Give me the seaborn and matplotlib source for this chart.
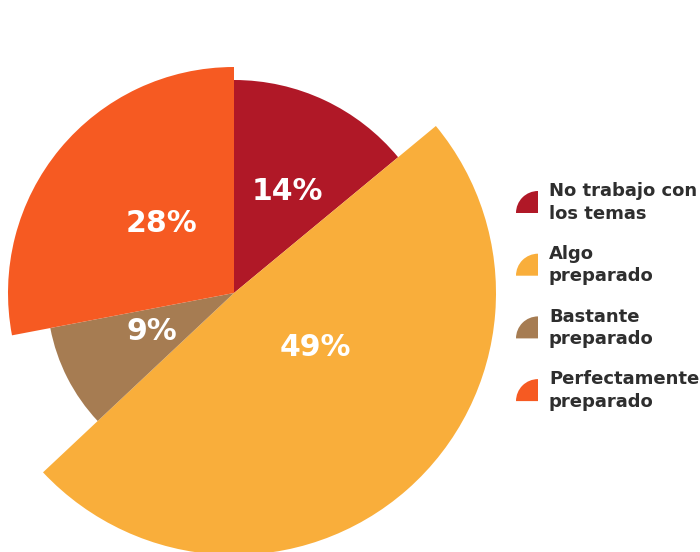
import matplotlib
matplotlib.use("Agg")
import matplotlib.pyplot as plt
from matplotlib.patches import Wedge
import seaborn as sns

# Survey answers: how prepared respondents feel
categories = [
    "No trabajo con\nlos temas",
    "Algo\npreparado",
    "Bastante\npreparado",
    "Perfectamente\npreparado",
]
values = [14, 49, 9, 28]

# Styling: one radius per slice (variable-radius pie), colours and label spots
radii = [213, 262, 187, 226]
palette = sns.color_palette(["#B01827", "#F9AE3B", "#A67C52", "#F65A22"])
label_xy = [(53, 102), (81, -55), (-82, -39), (-72, 70)]

sns.set_theme(style="white")
plt.rcParams["font.family"] = ["DejaVu Sans"]

W, H = 700, 552
cx, cy = 234, 293  # pie centre, in pixels from the top-left corner

fig = plt.figure(figsize=(W / 100, H / 100), dpi=100)
ax = fig.add_axes([0, 0, 1, 1])

# Each pass draws the whole pie at one radius, but only one wedge is visible
for i, r in enumerate(radii):
    cols = [palette[i] if j == i else "none" for j in range(len(values))]
    ax.pie(values, radius=r, colors=cols, startangle=90,
           counterclock=False, wedgeprops=dict(linewidth=0))

for v, (x, y) in zip(values, label_xy):
    ax.text(x, y, f"{v}%", color="white", fontsize=21.5, fontweight="bold",
            ha="center", va="center")

# Legend with quarter-circle keys
leg_x, leg_y0, leg_step, key_r = 538, 213, 62.7, 22
for i, (lab, col) in enumerate(zip(categories, palette)):
    yb = leg_y0 + leg_step * i
    ax.add_patch(Wedge((leg_x - cx, cy - yb), key_r, 90, 180,
                       facecolor=col, linewidth=0))
    ax.text(549 - cx, cy - (yb - 10.5), lab, color="#2e2e2e", fontsize=13,
            fontweight="bold", ha="left", va="center", linespacing=1.32)

ax.set_xlim(-cx, W - cx)
ax.set_ylim(-(H - cy), cy)
ax.set_aspect("auto")
ax.axis("off")

fig.savefig("out.png", dpi=100, facecolor="white")
